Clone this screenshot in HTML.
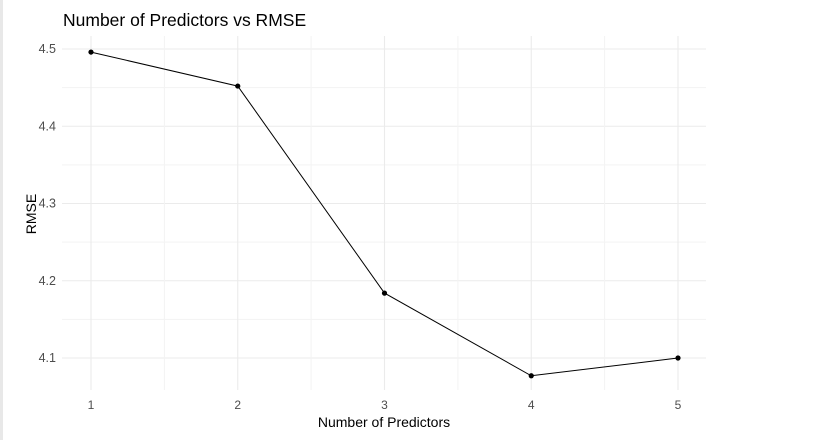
<!DOCTYPE html>
<html><head><meta charset="utf-8"><style>
body{margin:0;background:#fff;}
svg text{font-family:"Liberation Sans",sans-serif;}
</style></head><body>
<svg width="833" height="440">
<rect x="0" y="0" width="3" height="440" fill="#e8e8e8"/>
<g id="grid"></g><g id="marks"></g><g id="ticks"></g>
<text x="63" y="26" font-size="17.5" fill="#000">Number of Predictors vs RMSE</text>
<text x="384" y="427" font-size="14" text-anchor="middle" fill="#000">Number of Predictors</text>
<text transform="translate(36,214) rotate(-90)" font-size="14" text-anchor="middle" fill="#000">RMSE</text>
</svg>
<script>
const categories=[1,2,3,4,5];
const rmseValues=[4.496,4.452,4.184,4.077,4.100];
const yTicks=[4.1,4.2,4.3,4.4,4.5];
const xTicks=[1,2,3,4,5];
const ns="http://www.w3.org/2000/svg";
const L=62,R=706,T=36,B=390;
function xs(v){return 91+(v-1)*146.75;}
function ys(v){return 49+(4.5-v)*772.5;}
function mk(t,a,p){const e=document.createElementNS(ns,t);for(const k in a)e.setAttribute(k,a[k]);p.appendChild(e);return e;}
const g=document.getElementById('grid'),m=document.getElementById('marks'),tk=document.getElementById('ticks');
for(let i=0;i<yTicks.length;i++){
 const y=ys(yTicks[i]);
 const l=mk('line',{x1:L,x2:R,y1:y,y2:y,stroke:'#ebebeb','stroke-width':1.1},g);
 
 
 if(i<yTicks.length-1){const ym=ys(yTicks[i]+0.05);
 const lm=mk('line',{x1:L,x2:R,y1:ym,y2:ym,stroke:'#f3f3f3','stroke-width':1},g);
 
 }
 const t=mk('text',{x:56,y:y+4,'font-size':12.5,fill:'#4d4d4d','text-anchor':'end'},tk);
 t.textContent=yTicks[i].toFixed(1);
 
 
}
for(let i=0;i<xTicks.length;i++){
 const x=xs(xTicks[i]);
 const l=mk('line',{x1:x,x2:x,y1:T,y2:B,stroke:'#ebebeb','stroke-width':1.1},g);
 
 
 if(i<xTicks.length-1){const xm=xs(xTicks[i]+0.5);
 const lm=mk('line',{x1:xm,x2:xm,y1:T,y2:B,stroke:'#f3f3f3','stroke-width':1},g);
 
 }
 const t=mk('text',{x:x,y:409,'font-size':12,fill:'#4d4d4d','text-anchor':'middle'},tk);
 t.textContent=xTicks[i];
 
 
}
const pts=categories.map((c,i)=>xs(c)+','+ys(rmseValues[i])).join(' ');
const pl=mk('polyline',{points:pts,fill:'none',stroke:'#000','stroke-width':1},m);


categories.forEach((c,i)=>{
 const p=mk('circle',{cx:xs(c),cy:ys(rmseValues[i]),r:2.6,fill:'#000'},m);
 
 
});
</script>
</body></html>
